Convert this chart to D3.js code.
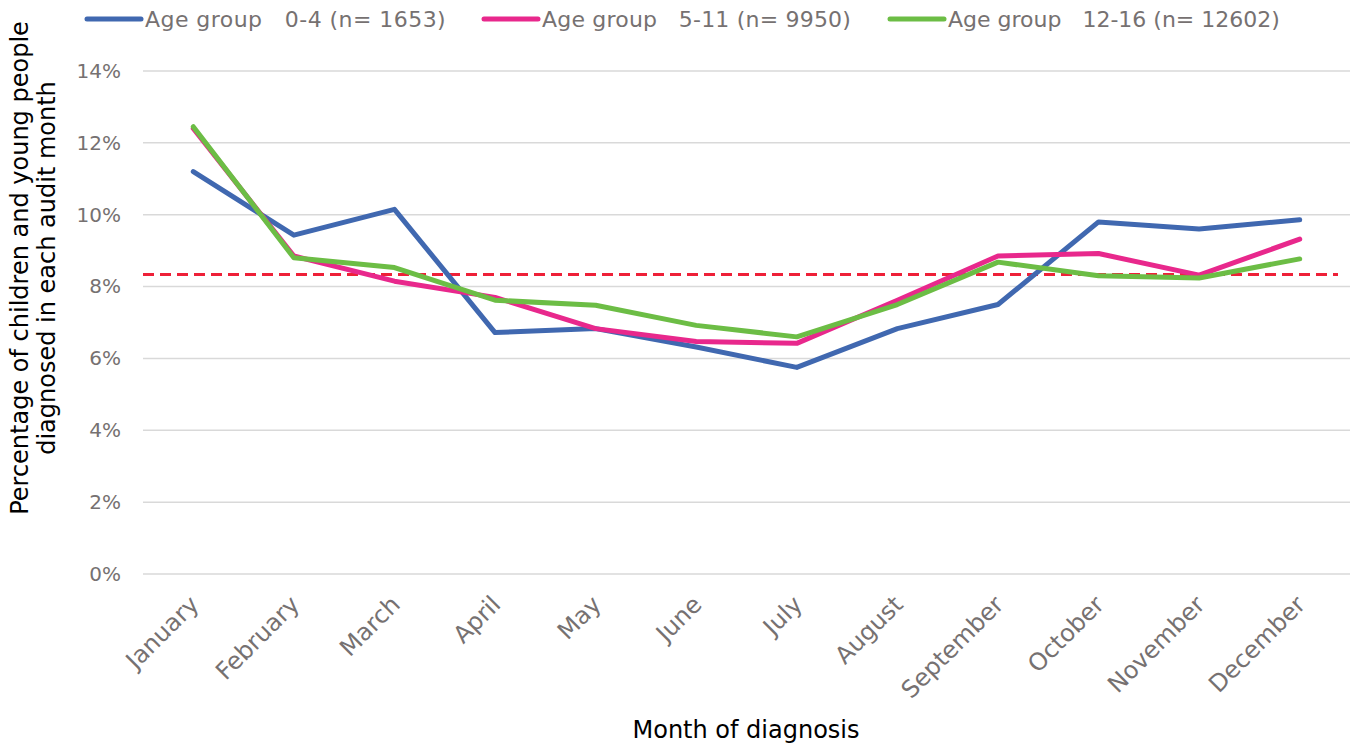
<!DOCTYPE html>
<html>
<head>
<meta charset="utf-8">
<script src="https://cdn.jsdelivr.net/npm/d3@7"></script>
<style>
  body { margin: 0; background: #fff; }
  text { font-family: "DejaVu Sans", sans-serif; }
</style>
</head>
<body>
<div id="chart"></div>
<script>
var width = 1358;
var height = 747;
var margin = {top: 71, right: 8, bottom: 173, left: 143};

var months = ["January", "February", "March", "April", "May", "June", "July",
  "August", "September", "October", "November", "December"];
var age0to4 = [11.2, 9.43, 10.15, 6.72, 6.83, 6.32, 5.75, 6.83, 7.5, 9.8, 9.6, 9.86];
var age5to11 = [12.4, 8.85, 8.15, 7.7, 6.83, 6.47, 6.42, 7.62, 8.85, 8.92, 8.32, 9.32];
var age12to16 = [12.45, 8.8, 8.53, 7.62, 7.48, 6.92, 6.6, 7.5, 8.68, 8.3, 8.24, 8.77];
var seriesNames = ["Age group   0-4 (n= 1653)", "Age group   5-11 (n= 9950)", "Age group   12-16 (n= 12602)"];
var seriesColors = ["#4068b0", "#e8288c", "#6cbd45"];
var average = 100 / 12;
var yTicks = [0, 2, 4, 6, 8, 10, 12, 14];

var series = [age0to4, age5to11, age12to16];

var svg = d3.select("#chart")
  .append("svg")
  .attr("width", width)
  .attr("height", height);

var x = d3.scaleBand()
  .domain(months)
  .range([margin.left, width - margin.right]);

var y = d3.scaleLinear()
  .domain([0, 14])
  .range([height - margin.bottom, margin.top]);

// gridlines
svg.append("g")
  .selectAll("line")
  .data(yTicks)
  .enter()
  .append("line")
  .attr("x1", margin.left)
  .attr("x2", width - margin.right)
  .attr("y1", function(d){ return y(d); })
  .attr("y2", function(d){ return y(d); })
  .attr("stroke", "#d9d9d9")
  .attr("stroke-width", 1.5);

// y axis labels
var yAxis = svg.append("g")
  .attr("transform", "translate(" + margin.left + ",0)")
  .call(d3.axisLeft(y).tickValues(yTicks).tickSize(0).tickPadding(22)
    .tickFormat(function(d){ return d + "%"; }));
yAxis.select(".domain").remove();
yAxis.selectAll("text")
  .attr("font-size", "20px")
  .attr("fill", "#767171")
  .attr("font-family", "'DejaVu Sans', sans-serif");

// x axis labels
var xAxis = svg.append("g")
  .attr("transform", "translate(0," + y(0) + ")")
  .call(d3.axisBottom(x).tickSize(0).tickPadding(0));
xAxis.select(".domain").remove();
xAxis.selectAll("text")
  .attr("font-size", "24px")
  .attr("fill", "#767171")
  .attr("font-family", "'DejaVu Sans', sans-serif")
  .attr("text-anchor", "end")
  .attr("dy", "0")
  .attr("transform", "translate(7,32) rotate(-45)");

// average line
svg.append("line")
  .attr("x1", margin.left)
  .attr("x2", 1338)
  .attr("y1", y(average))
  .attr("y2", y(average))
  .attr("stroke", "#ee2038")
  .attr("stroke-width", 3)
  .attr("stroke-dasharray", "11,6");

var line = d3.line()
  .x(function(d, i){ return x(months[i]) + x.bandwidth() / 2; })
  .y(function(d){ return y(d); });

svg.selectAll("path.series")
  .data(series)
  .enter()
  .append("path")
  .attr("class", "series")
  .attr("d", line)
  .attr("fill", "none")
  .attr("stroke", function(d, i){ return seriesColors[i]; })
  .attr("stroke-width", 5)
  .attr("stroke-linejoin", "round")
  .attr("stroke-linecap", "round");

// legend
var legendX = [85, 482, 888];
var legend = svg.selectAll("g.legend")
  .data(seriesNames)
  .enter()
  .append("g")
  .attr("class", "legend")
  .attr("transform", function(d, i){ return "translate(" + legendX[i] + ",19)"; });
legend.append("line")
  .attr("x1", 2)
  .attr("x2", 56)
  .attr("stroke", function(d, i){ return seriesColors[i]; })
  .attr("stroke-width", 5)
  .attr("stroke-linecap", "round");
legend.append("text")
  .attr("x", 60)
  .attr("y", 8)
  .attr("font-size", "22px")
  .attr("fill", "#767171")
  .attr("xml:space", "preserve")
  .style("white-space", "pre")
  .attr("letter-spacing", function(d, i){ return i === 0 ? 0.45 : (i === 1 ? 0.2 : 0); })
  .text(function(d){ return d; });

// axis titles
svg.append("text")
  .attr("x", 746)
  .attr("y", 738)
  .attr("text-anchor", "middle")
  .attr("font-size", "24px")
  .attr("fill", "#000")
  .text("Month of diagnosis");

var yTitle = svg.append("text")
  .attr("transform", "translate(28,268) rotate(-90)")
  .attr("text-anchor", "middle")
  .attr("font-size", "24px")
  .attr("fill", "#000");
yTitle.append("tspan").attr("x", 0).attr("dy", 0).text("Percentage of children and young people");
yTitle.append("tspan").attr("x", 0).attr("dy", 27).text("diagnosed in each audit month");
</script>
</body>
</html>
